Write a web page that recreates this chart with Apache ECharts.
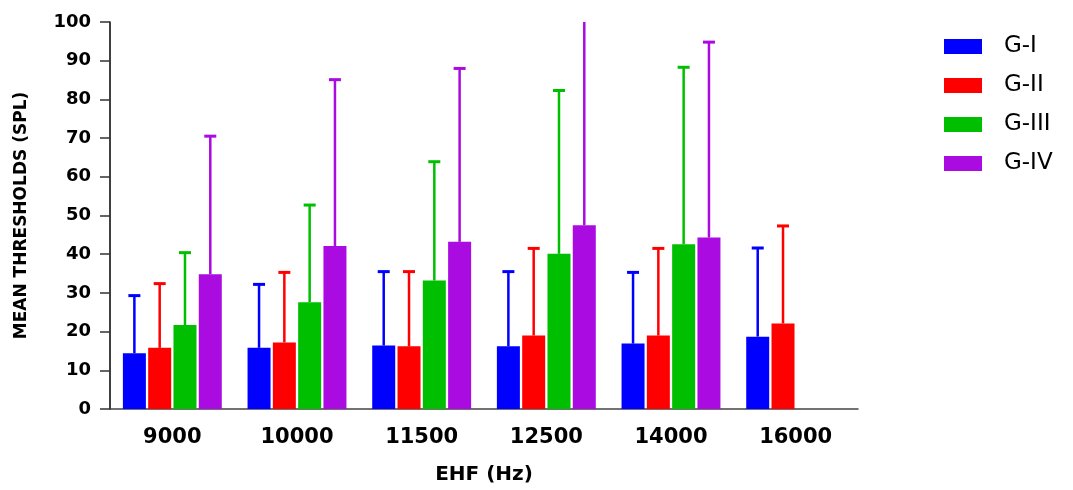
<!DOCTYPE html>
<html>
<head>
<meta charset="utf-8">
<script src="https://cdn.jsdelivr.net/npm/echarts@6/dist/echarts.min.js"></script>
<style>
  html, body { margin: 0; padding: 0; background: #fff; }
  #achart { width: 1073px; height: 490px; }
</style>
</head>
<body>
<div id="achart"></div>
<script>
// EHF frequencies
var categories = ['9000', '10000', '11500', '12500', '14000', '16000'];
var groups = ['G-I', 'G-II', 'G-III', 'G-IV'];
var colors = ['#0000FF', '#FF0000', '#00BF00', '#AA0BE0'];
// means (bar tops) and mean+SD (error bar tops)
var g1Mean = [14.4, 15.8, 16.4, 16.2, 16.9, 18.7];
var g1Upper = [29.3, 32.2, 35.5, 35.5, 35.3, 41.6];
var g2Mean = [15.8, 17.2, 16.2, 19.0, 19.0, 22.1];
var g2Upper = [32.4, 35.3, 35.5, 41.5, 41.5, 47.3];
var g3Mean = [21.7, 27.6, 33.2, 40.1, 42.6, null];
var g3Upper = [40.4, 52.7, 63.9, 82.3, 88.3, null];
var g4Mean = [34.8, 42.1, 43.2, 47.5, 44.3, null];
var g4Upper = [70.5, 85.1, 88.0, 102, 94.8, null];
var yTicks = [0, 100, 10];

var means = [g1Mean, g2Mean, g3Mean, g4Mean];
var uppers = [g1Upper, g2Upper, g3Upper, g4Upper];

var barW = 23;
var barGapPct = 0.1;
var step = barW * (1 + barGapPct);
var groupW = barW * 4 + barW * barGapPct * 3;

var series = [];
groups.forEach(function (g, i) {
  series.push({
    name: g,
    type: 'bar',
    barWidth: barW,
    barGap: '10%',
    itemStyle: { color: colors[i] },
    data: means[i].map(function (v) { return v == null ? '-' : v; })
  });
});
groups.forEach(function (g, i) {
  var offset = -groupW / 2 + barW / 2 + i * step;
  var data = [];
  means[i].forEach(function (v, k) {
    if (v != null) data.push([k, v, uppers[i][k]]);
  });
  series.push({
    name: g,
    type: 'custom',
    z: 1,
    renderItem: function (params, api) {
      var k = api.value(0);
      var x = api.coord([k, 0])[0] + offset;
      var yMean = api.coord([k, api.value(1)])[1];
      var yUp = api.coord([k, api.value(2)])[1];
      var top = params.coordSys.y;
      var clipped = yUp < top;
      if (clipped) yUp = top;
      var children = [{
        type: 'line',
        shape: { x1: x, y1: yMean, x2: x, y2: yUp },
        style: { stroke: colors[i], lineWidth: 2.5 }
      }];
      if (!clipped) {
        children.push({
          type: 'line',
          shape: { x1: x - 6, y1: yUp, x2: x + 6, y2: yUp },
          style: { stroke: colors[i], lineWidth: 3 }
        });
      }
      return { type: 'group', children: children };
    },
    data: data
  });
});

var option = {
  animation: false,
  grid: { left: 110, right: 215, top: 22, bottom: 75 },
  legend: {
    data: groups,
    orient: 'vertical',
    left: 939,
    top: 30,
    itemWidth: 38,
    itemHeight: 15,
    itemGap: 16,
    icon: 'rect',
    textStyle: {
      fontFamily: 'DejaVu Sans',
      fontSize: 23,
      lineHeight: 22,
      color: '#000',
      padding: [0, 0, 0, 17]
    }
  },
  xAxis: {
    type: 'category',
    data: categories,
    name: 'EHF (Hz)',
    nameLocation: 'middle',
    nameGap: 56,
    nameTextStyle: { fontFamily: 'DejaVu Sans', fontWeight: 'bold', fontSize: 20, color: '#000' },
    axisLine: { lineStyle: { color: '#444', width: 1.5 } },
    axisTick: { alignWithLabel: true, length: 10, lineStyle: { color: '#000', width: 1.5 } },
    axisLabel: { margin: 18, fontFamily: 'DejaVu Sans', fontWeight: 'bold', fontSize: 21, color: '#000' }
  },
  yAxis: {
    type: 'value',
    min: yTicks[0],
    max: yTicks[1],
    interval: yTicks[2],
    name: 'MEAN THRESHOLDS (SPL)',
    nameLocation: 'middle',
    nameGap: 80,
    nameTextStyle: { fontFamily: 'DejaVu Sans', fontWeight: 'bold', fontSize: 17, color: '#000' },
    splitLine: { show: false },
    axisLine: { show: true, lineStyle: { color: '#000', width: 1.5 } },
    axisTick: { show: true, length: 10, lineStyle: { color: '#333', width: 1.5 } },
    axisLabel: { margin: 19, fontFamily: 'DejaVu Sans', fontWeight: 'bold', fontSize: 18, color: '#000' }
  },
  series: series
};

var myChart = echarts.init(document.getElementById('achart'));
myChart.setOption(option);
</script>
</body>
</html>
